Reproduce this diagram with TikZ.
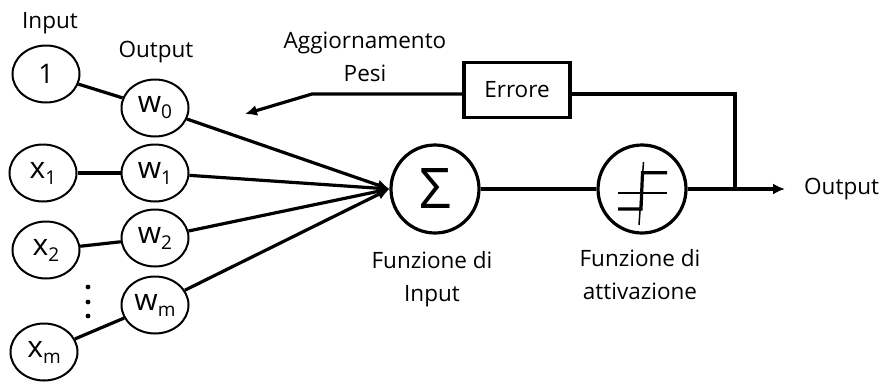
\documentclass[tikz,border=0pt]{standalone}
\usepackage{fontspec}
\setmainfont{Open Sans}
\usetikzlibrary{shapes.geometric,arrows.meta}

% variable with subscript, as printed inside the small ellipses
\newcommand{\sublab}[2]{{\fontsize{30}{30}\selectfont #1}\raisebox{-6pt}{\fontsize{19}{19}\selectfont #2}}

\begin{document}
\begin{tikzpicture}[x=1pt,y=-1pt,
  unit/.style={ellipse,draw,line width=2pt,minimum width=67pt,minimum height=57pt,inner sep=0pt,fill=white},
  bigcirc/.style={circle,draw,line width=3.2pt,minimum size=88pt,inner sep=0pt,fill=white},
  wire/.style={line width=3.2pt},
  arr/.style={wire,-{Latex[length=12pt,width=11pt]}},
  lbl/.style={font=\fontsize{22.5}{33}\selectfont,inner sep=0pt,align=center},
  errbox/.style={draw,line width=3.2pt,minimum width=106pt,minimum height=55pt,inner sep=0pt,fill=white}]
\useasboundingbox (0,0) rectangle (882,381);

% input and weight units
\node[unit] (in1) at (46,74)  {\fontsize{27}{27}\selectfont 1};
\node[unit] (x1)  at (43,173) {\sublab{x}{1}};
\node[unit] (x2)  at (46,250) {\sublab{x}{2}};
\node[unit] (xm)  at (44,352) {\sublab{x}{m}};
\node[unit] (w0)  at (155,108) {\sublab{w}{0}};
\node[unit] (w1)  at (155,173) {\sublab{w}{1}};
\node[unit] (w2)  at (155,238) {\sublab{w}{2}};
\node[unit] (wm)  at (155,305) {\sublab{w}{m}};

% vertical ellipsis between x2 and xm
\foreach \yy in {287,302,316} \fill (88,\yy) circle (2.4pt);

% summation and activation
\node[bigcirc] (sum) at (435,189) {\fontsize{56}{56}\selectfont \char"03A3};
\node[bigcirc] (act) at (642,189) {};

% step-function glyph inside the activation unit
\draw[line width=1.5pt] (643.5,162) -- (639,225);
\draw[line width=1.5pt] (618,193) -- (667,193);
\draw[line width=3.2pt] (618,209) -- (641,209) -- (642.5,172.7) -- (667,172.7);

% error block
\node[errbox,lbl] (err) at (517,90) {Errore};

% labels
\node[lbl] (tin)  at (50,23)  {Input};
\node[lbl] (tout) at (156,52) {Output};
\node[lbl] (agg)  at (365,57) {Aggiornamento\\Pesi};
\node[lbl] (fin)  at (432,279) {Funzione di\\Input};
\node[lbl] (fact) at (640,275) {Funzione di\\attivazione};
\node[lbl,anchor=west] (tres) at (804,189) {Output};

% connectors: inputs to weights
\draw[wire] (in1) -- (w0);
\draw[wire] (x1) -- (w1);
\draw[wire] (x2) -- (w2);
\draw[wire] (xm) -- (wm);

% weights into the summation
\draw[arr] (w0) -- (sum.west);
\draw[arr] (w1) -- (sum.west);
\draw[arr] (w2) -- (sum.west);
\draw[arr] (wm) -- (sum.west);

% main chain and output
\coordinate (br)     at (735,189);
\coordinate (brtop)  at (735,94);
\coordinate (outend) at (785,189);
\coordinate (bend)   at (312,94);
\coordinate (tip)    at (245,114);
\draw[wire] (sum) -- (act);
\draw[arr] (act) -- (outend);

% feedback through the error block
\draw[wire] (br) -- (brtop) -- (err.east |- brtop);
\draw[arr] (err.west |- brtop) -- (bend) -- (tip);
\end{tikzpicture}
\end{document}
